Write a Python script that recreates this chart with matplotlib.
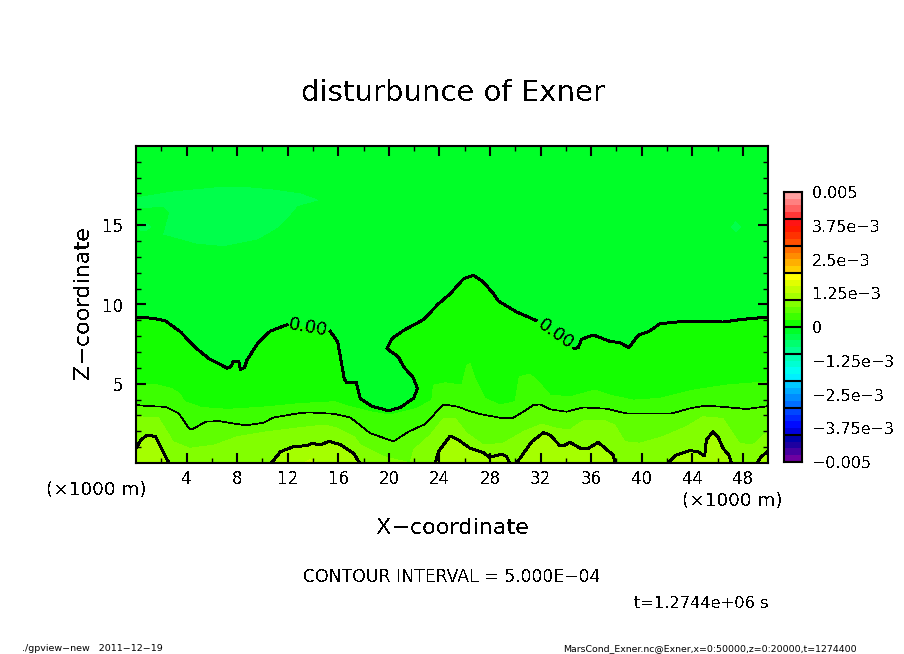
import matplotlib
matplotlib.use('Agg')
import matplotlib.pyplot as plt
import numpy as np
from matplotlib.colors import ListedColormap, BoundaryNorm

# traced contours, (x km, z km)
zero_left_x = [0, 1.42, 2.34, 3.53, 4.58, 5.76, 6.68, 7.21, 7.55, 7.63, 8.13, 8.26, 8.58, 8.79, 9.71, 10.63, 11.95]
zero_left_z = [9.2, 9.12, 8.95, 8.26, 7.36, 6.58, 6.21, 5.97, 6.10, 6.37, 6.42, 5.89, 6.02, 6.52, 7.63, 8.32, 8.72]
zero_mid_x = [15.37, 15.95, 16.21, 16.47, 16.68, 17.42, 17.74, 18.66, 19.97, 20.89, 21.95, 22.26, 21.89, 21.16, 20.76,
              19.84, 20.24, 21.16, 22.74, 23.92, 24.85, 25.9, 26.69, 27.48, 28.27, 28.67, 30.11, 31.64]
zero_mid_z = [8.30, 7.63, 6.48, 5.32, 5.05, 5.09, 4.07, 3.58, 3.29, 3.50, 4.07, 4.70, 5.43, 6.06, 6.69,
              7.21, 7.84, 8.36, 9.04, 10.04, 10.67, 11.61, 11.84, 11.40, 10.67, 10.21, 9.52, 8.99]
zero_right_x = [34.64, 34.98, 35.24, 36.17, 37.48, 38.27, 38.98, 39.72, 40.64, 41.43, 43.27, 46.43, 48.01, 50]
zero_right_z = [7.21, 7.27, 7.80, 8.07, 7.67, 7.59, 7.27, 8.05, 8.32, 8.78, 8.93, 8.89, 9.06, 9.2]

half_x = [0, 1.16, 2.34, 3.39, 4.18, 4.45, 5.5, 6.55, 8.66, 10.1, 10.89, 12.74, 13.66, 15.63, 16.95, 18.53, 20.37,
          21.55, 22.87, 23.53, 24.32, 25.5, 26.17, 27.22, 28.8, 29.85, 30.64, 31.43, 31.96, 32.74, 34.06, 35.38,
          37.22, 38.8, 40.9, 42.35, 43.8, 44.98, 46.43, 48.27, 50]
half_z = [3.65, 3.58, 3.54, 3.12, 2.18, 2.12, 2.60, 2.64, 2.37, 2.54, 2.87, 3.12, 3.19, 3.10, 2.87, 1.87, 1.36,
          1.97, 2.45, 3.02, 3.69, 3.54, 3.33, 3.08, 2.85, 2.85, 3.23, 3.65, 3.69, 3.38, 3.23, 3.5,
          3.42, 3.12, 3.12, 3.12, 3.44, 3.61, 3.54, 3.40, 3.58]

# 1e-3 contour, pieces that sit on the lower edge
one_x = [[0, 0.37, 0.89, 1.55, 2.08, 2.6],
         [10.71, 11.42, 12.47, 13.53, 13.92, 14.58, 15.24, 16.16, 17.21, 17.68],
         [23.66, 23.92, 24.84, 25.5, 26.43, 27.48, 27.96, 28.93, 29.32, 29.53],
         [30.11, 31.3, 32.22, 32.74, 33.53, 33.93, 34.32, 35.24, 35.77, 36.56, 37.74, 37.88],
         [42.09, 42.74, 43.8, 44.46, 44.98, 45.11, 45.64, 46.03, 46.43, 46.9, 47.09],
         [49.11, 49.46, 49.85, 50]]
one_z = [[0.92, 1.45, 1.76, 1.66, 0.82, 0],
         [0, 0.71, 1.03, 1.09, 1.24, 1.13, 1.36, 1.17, 0.61, 0],
         [0, 0.71, 1.70, 1.45, 0.92, 0.65, 0.36, 0.55, 0.40, 0],
         [0, 1.34, 1.91, 1.76, 1.09, 1.13, 1.30, 0.88, 0.92, 1.3, 0.5, 0],
         [0, 0.5, 0.78, 0.71, 0.44, 1.45, 1.97, 1.66, 0.92, 0.5, 0],
         [0, 0.4, 0.65, 0.75]]

# colour band edges without a line on them
quarter_x = [0, 1.47, 2.79, 3.45, 3.84, 5.16, 7.26, 10.42, 13.05, 15.68, 16.95, 18.53, 20.11, 22.21, 23.4, 23.53,
             24.45, 25.77, 26.16, 26.42, 26.82, 27.61, 28.79, 29.98, 30.32, 31.16, 31.95, 32.74, 34.32, 34.84,
             36.28, 37.47, 39.31, 41.41, 44.05, 46.68, 50]
quarter_z = [4.9, 4.97, 4.70, 4.38, 3.86, 3.5, 3.38, 3.54, 3.75, 3.86, 3.54, 3.23, 3.02, 3.44, 3.96, 4.91,
             5.05, 4.91, 6.16, 6.27, 5.32, 4.07, 3.65, 3.86, 5.43, 5.6, 5.01, 4.28, 4.17, 4.28,
             4.59, 4.28, 3.96, 4.07, 4.59, 4.91, 5.12]
threeq_x = [0, 1.74, 2.53, 2.92, 4.24, 6.21, 8.05, 10.42, 12.53, 14.89, 15.95, 17.26, 17.74, 19.58, 21.69, 21.95,
            23.27, 24.32, 25.24, 26.16, 27.48, 29.05, 30.63, 32.08, 33.27, 34.32, 34.84, 35.49, 36.94, 37.86,
            38.65, 39.84, 41.68, 43.52, 44.84, 46.41, 47.2, 47.73, 48.78, 50]
threeq_z = [2.91, 2.87, 1.87, 1.34, 0.92, 1.13, 1.66, 1.97, 2.18, 2.39, 2.18, 1.66, 1.13, 0.4, 0, 0.82,
            1.76, 2.81, 2.81, 1.87, 1.13, 1.24, 1.97, 2.45, 2.18, 2.08, 2.39, 2.7, 2.7, 2.39,
            1.34, 1.24, 1.66, 2.29, 2.91, 2.81, 1.87, 1.24, 1.13, 2.0]
high_x = [13.2, 13.8, 14.3]
high_z = [0, 0.2, 0]

# patches just under -2.5e-4
low_x = [[0, 2.74, 6.16, 8.53, 10.89, 13.0, 14.32, 12.74, 12.08, 11.16, 9.58, 6.95, 4.84, 2.21, 2.68, 2.21, 0],
         [0.24, 0.76, 1.16, 0.76, 0.32],
         [47.1, 47.45, 47.8, 47.45]]
low_z = [[16.71, 17.07, 17.34, 17.38, 17.21, 16.96, 16.58, 16.23, 15.6, 14.86, 14.13, 13.71, 13.86, 14.44, 15.81, 16.16, 16.12],
         [14.97, 15.12, 14.9, 14.65, 14.69],
         [14.9, 15.2, 14.9, 14.6]]

# contour labels
label_text = ['0.00', '0.00']
label_x = [13.63, 33.2]
label_z = [8.55, 8.1]
label_rot = [-10, -35]

# colour bar, bottom to top, one shade per 2.5e-4
bar_colors = [(110, 0, 160), (70, 0, 160), (30, 0, 160), (0, 0, 170),
              (0, 0, 220), (0, 10, 255), (0, 40, 255), (0, 70, 255),
              (0, 110, 255), (0, 140, 255), (0, 170, 255), (0, 200, 255),
              (0, 240, 255), (0, 255, 240), (0, 255, 210), (0, 255, 180),
              (0, 255, 145), (0, 255, 110), (0, 255, 75), (0, 255, 40),
              (20, 255, 0), (60, 255, 0), (95, 255, 0), (130, 255, 0),
              (165, 255, 0), (195, 255, 0), (225, 255, 0), (255, 255, 0),
              (255, 205, 0), (255, 175, 0), (255, 140, 0), (255, 110, 0),
              (255, 80, 0), (255, 50, 0), (255, 25, 0), (255, 20, 20),
              (255, 55, 55), (255, 96, 96), (255, 128, 128), (255, 160, 160)]
bar_ticks = [-0.005, -3.75e-3, -2.5e-3, -1.25e-3, 0, 1.25e-3, 2.5e-3, 3.75e-3, 0.005]
bar_labels = ['\u22120.005', '\u22123.75e\u22123', '\u22122.5e\u22123', '\u22121.25e\u22123', '0',
              '1.25e\u22123', '2.5e\u22123', '3.75e\u22123', '0.005']
x_ticks = [4, 8, 12, 16, 20, 24, 28, 32, 36, 40, 44, 48]
z_ticks = [5, 10, 15]

W, H = 904, 654
plt.rcParams['text.antialiased'] = False
plt.rcParams['font.family'] = 'DejaVu Sans'

levels = np.linspace(-0.005, 0.005, 41)
colors = [tuple(c / 255 for c in rgb) for rgb in bar_colors]
cmap = ListedColormap(colors)
norm = BoundaryNorm(levels, cmap.N)


def shade(value):
    # colour of the band that starts at value
    return cmap(norm(value + 1e-5))


def axes_px(fig, left, top, right, bottom):
    return fig.add_axes([left / W, 1 - bottom / H, (right - left) / W, (bottom - top) / H])


def text_px(fig, px, py, s, **kw):
    kw.setdefault('ha', 'center')
    kw.setdefault('va', 'center')
    fig.text(px / W, 1 - py / H, s, **kw)


def fill_under(ax, xs, zs, value):
    # region between a traced line and the lower edge
    ax.fill(list(xs) + [xs[-1], xs[0]], list(zs) + [0, 0], color=shade(value), lw=0, antialiased=False)


# small extra so the size does not round down to 903
fig = plt.figure(figsize=((W + 0.2) / 100, (H + 0.2) / 100), dpi=100)
ax = axes_px(fig, 136, 146, 768, 463)
ax.set_xlim(0, 50)
ax.set_ylim(0, 20)
ax.set_facecolor(shade(-2.5e-4))

for xs, zs in zip(low_x, low_z):
    ax.fill(xs, zs, color=shade(-5e-4), lw=0, antialiased=False)

zero_x = zero_left_x + zero_mid_x + zero_right_x
zero_z = zero_left_z + zero_mid_z + zero_right_z
fill_under(ax, zero_x, zero_z, 0)
fill_under(ax, quarter_x, quarter_z, 2.5e-4)
fill_under(ax, half_x, half_z, 5e-4)
fill_under(ax, threeq_x, threeq_z, 7.5e-4)
for xs, zs in zip(one_x, one_z):
    fill_under(ax, xs, zs, 1e-3)
fill_under(ax, high_x, high_z, 1.25e-3)

for xs, zs in [(zero_left_x, zero_left_z), (zero_mid_x, zero_mid_z), (zero_right_x, zero_right_z)]:
    ax.plot(xs, zs, color='k', lw=1.4, antialiased=False)
ax.plot(half_x, half_z, color='k', lw=0.5, antialiased=False)
for xs, zs in zip(one_x, one_z):
    ax.plot(xs, zs, color='k', lw=1.4, antialiased=False)

for s, lx, lz, rot in zip(label_text, label_x, label_z, label_rot):
    ax.text(lx, lz, s, rotation=rot, ha='center', va='center', fontsize=13, rotation_mode='anchor')

ax.set_xticks(x_ticks)
ax.set_yticks(z_ticks)
ax.set_xticks(np.arange(2, 50, 4), minor=True)
ax.set_yticks(np.setdiff1d(np.arange(1, 20), z_ticks), minor=True)
ax.tick_params(which='major', direction='in', top=True, right=True, length=7.5, width=1.5, labelsize=12)
ax.tick_params(which='minor', direction='in', top=True, right=True, length=3.5, width=1)
ax.tick_params(axis='x', which='major', pad=5)
ax.tick_params(axis='y', which='major', pad=9)
for side in ax.spines.values():
    side.set_linewidth(1.5)

cax = axes_px(fig, 784, 192, 802, 462)
cax.pcolormesh([0, 1], levels, np.array(levels[:-1] + 1e-5).reshape(-1, 1), cmap=cmap, norm=norm)
cax.hlines(np.arange(-0.005, 0.0051, 0.001), 0, 1, color='k', lw=1.5)
cax.set_xticks([])
cax.set_yticks(bar_ticks, bar_labels)
cax.yaxis.tick_right()
cax.tick_params(length=0, labelsize=11.5, pad=7)
for side in cax.spines.values():
    side.set_linewidth(1.5)

text_px(fig, 453, 93, 'disturbunce of Exner', fontsize=21)
text_px(fig, 453, 528, 'X\u2212coordinate', fontsize=16)
text_px(fig, 83, 303, 'Z\u2212coordinate', fontsize=16, rotation=90)
text_px(fig, 96, 490, '(\u00d71000 m)', fontsize=13.2)
text_px(fig, 732, 501, '(\u00d71000 m)', fontsize=13.2)
text_px(fig, 452, 577, 'CONTOUR INTERVAL = 5.000E\u221204', fontsize=12.4)
text_px(fig, 701, 603, 't=1.2744e+06 s', fontsize=11.7)
text_px(fig, 22, 648, './gpview\u2212new   2011\u221212\u221219', ha='left', fontsize=6.8, antialiased=True)
text_px(fig, 563, 648, 'MarsCond_Exner.nc@Exner,x=0:50000,z=0:20000,t=1274400', ha='left', fontsize=6.75, antialiased=True)

fig.savefig('out.png', dpi=100)
